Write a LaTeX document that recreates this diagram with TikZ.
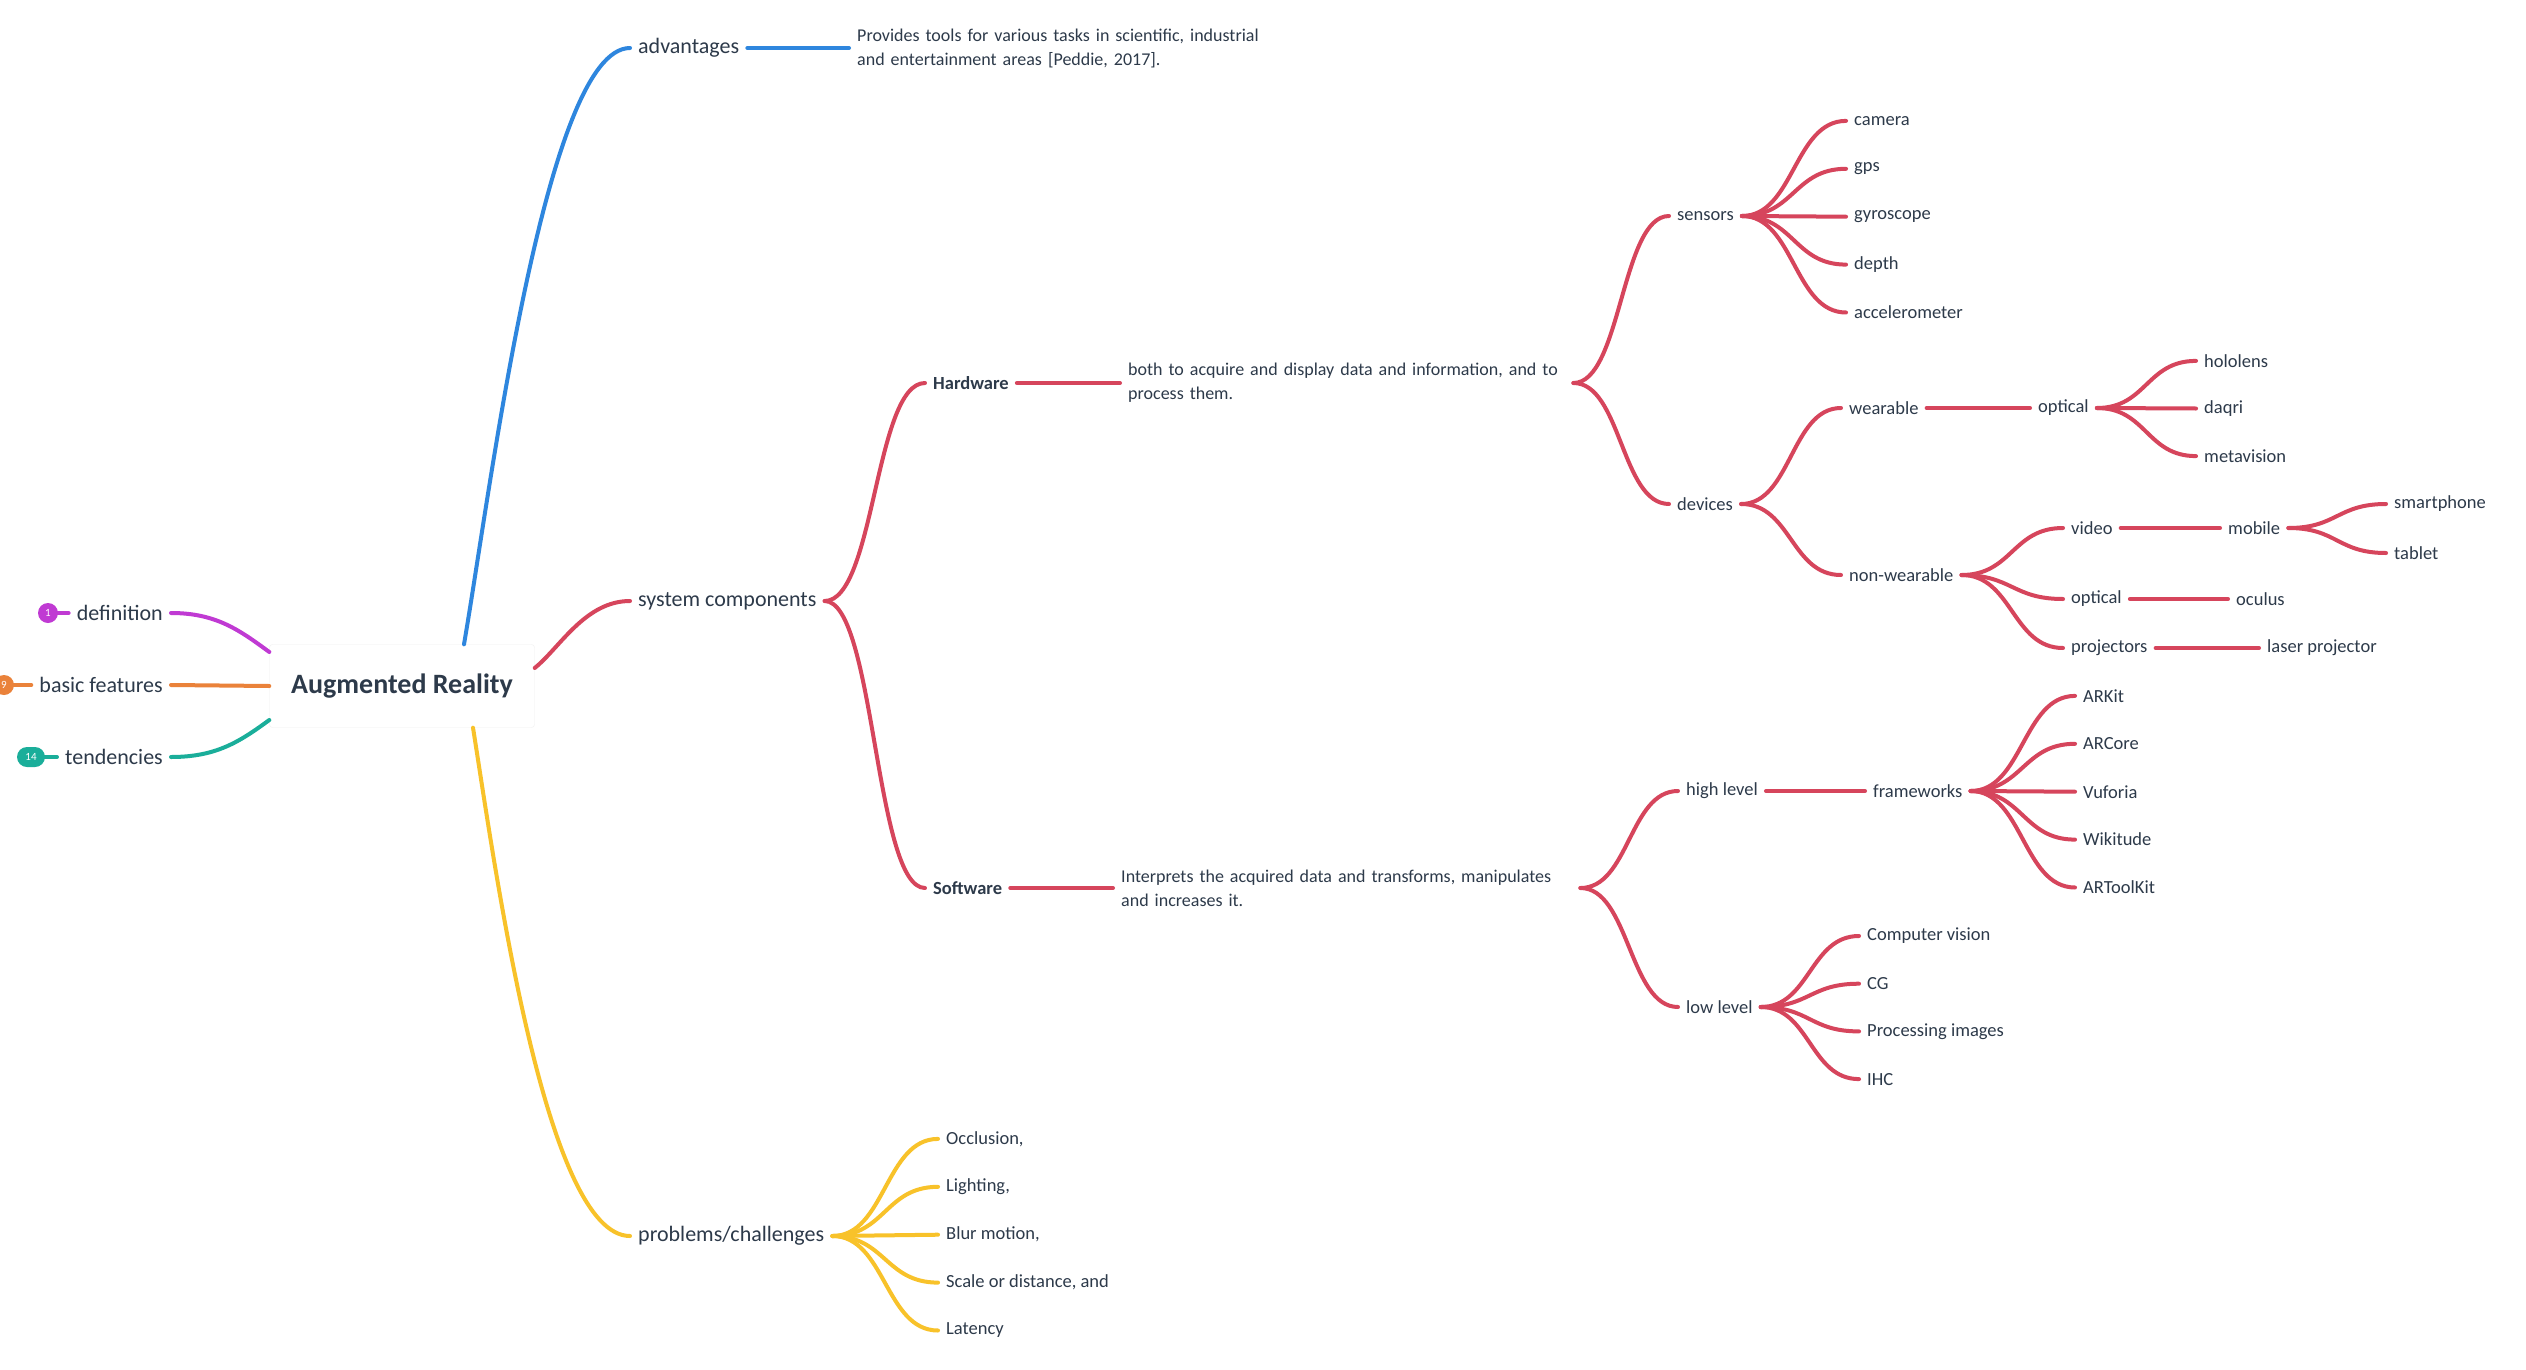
\documentclass[tikz,border=0pt]{standalone}
\usepackage{fontspec}
\setmainfont{Carlito}
\usetikzlibrary{calc}
\definecolor{ink}{RGB}{45,58,74}
\definecolor{arblue}{RGB}{46,134,222}
\definecolor{arred}{RGB}{214,69,92}
\definecolor{aryellow}{RGB}{248,194,42}
\definecolor{arpurple}{RGB}{192,58,211}
\definecolor{arorange}{RGB}{234,130,58}
\definecolor{arteal}{RGB}{26,174,154}
\tikzset{
  fan/.style={to path={.. controls ($(\tikztostart)!0.5!(\tikztostart -| \tikztotarget)$) and ($(\tikztotarget)!0.5!(\tikztotarget -| \tikztostart)$) .. (\tikztotarget)}},
  topic/.style={text=ink,inner xsep=8pt,inner ysep=2pt,font=\fontsize{22}{26}\selectfont},
  leaf/.style={text=ink,inner xsep=8pt,inner ysep=2pt,anchor=west,font=\fontsize{18.5}{24}\selectfont},
  bleaf/.style={leaf,font=\bfseries\fontsize{18.5}{24}\selectfont},
  note/.style={leaf,align=left,text width=#1,font=\fontsize{18}{24}\selectfont},
  link/.style={line width=4pt,line cap=round},
  badge/.style={fill=#1,text=white,inner sep=0pt,minimum height=20pt,font=\fontsize{11}{11}\selectfont},
}
\begin{document}
\begin{tikzpicture}[x=1pt,y=-1pt]
\path[use as bounding box,fill=white] (0,0) rectangle (2526,1370);
\node[fill=white,draw=black!6,rounded corners=3pt,minimum width=265pt,minimum height=83pt,text=ink,font=\bfseries\fontsize{28}{32}\selectfont] (ar) at (402,686) {Augmented Reality};
% left side
\node[topic,anchor=east] (def) at (171,613) {definition};
\node[topic,anchor=east] (bas) at (171,685) {basic features};
\node[topic,anchor=east] (ten) at (171,757) {tendencies};
\draw[link,arpurple] (48,613) coordinate (c1) -- (def.west);
\draw[link,arorange] (4,685) coordinate (c9) -- (bas.west);
\draw[link,arteal] (31,757) coordinate (c14) -- (ten.west);
\node[badge=arpurple,circle,minimum size=20pt] (n1) at (c1) {1};
\node[badge=arorange,circle,minimum size=20pt] (n9) at (c9) {9};
\node[badge=arteal,rounded corners=10pt,minimum width=28pt] (n14) at (c14) {14};
\draw[link,arpurple] (def.east) .. controls +(45,0) and +(-30,-22) .. ([yshift=34pt]ar.west);
\draw[link,arorange] (bas.east) -- (ar.west);
\draw[link,arteal] (ten.east) .. controls +(45,0) and +(-30,22) .. ([yshift=-34pt]ar.west);
% main topics
\node[topic,anchor=west] (adv) at (630,48) {advantages};
\node[topic,anchor=west] (sys) at (630,601) {system components};
\node[topic,anchor=west] (prob) at (630,1236) {problems/challenges};
\draw[link,arblue] ([xshift=62pt]ar.north) .. controls +(26,-150) and +(-85,0) .. (adv.west);
\draw[link,arred] ([yshift=18pt]ar.east) .. controls +(25,-20) and +(-45,0) .. (sys.west);
\draw[link,aryellow] ([xshift=71pt]ar.south) .. controls +(22,138) and +(-85,0) .. (prob.west);
\node[note=420pt] (advn) at (849,48) {Provides tools for various tasks in scientific, industrial\\and entertainment areas [Peddie, 2017].};
\draw[link,arblue] (adv.east) -- (advn.west);
% hardware
\node[bleaf] (hw) at (925,383) {Hardware};
\node[note=437pt] (hwn) at (1120,383) {both to acquire and display data and information, and to\\process them.};
\node[bleaf] (sw) at (925,888) {Software};
\node[note=451pt] (swn) at (1113,888) {Interprets the acquired data and transforms, manipulates\\and increases it.};
\foreach \n in {hw,sw} \draw[link,arred] (sys.east) to[fan] (\n.west);
\draw[link,arred] (hw.east) -- (hwn.west);
\draw[link,arred] (sw.east) -- (swn.west);
\node[leaf] (sens) at (1669,216) {sensors};
\node[leaf] (dev) at (1669,504) {devices};
\foreach \n in {sens,dev} \draw[link,arred] (hwn.east) to[fan] (\n.west);
\foreach \t [count=\i] in {camera,gps,gyroscope,depth,accelerometer} {
	\node[leaf] (sens\i) at (1846,{73+47.9*\i}) {\t};
	\draw[link,arred] (sens.east) to[fan] (sens\i.west);
}
\node[leaf] (wear) at (1841,408) {wearable};
\node[leaf] (nwear) at (1841,575) {non-wearable};
\foreach \n in {wear,nwear} \draw[link,arred] (dev.east) to[fan] (\n.west);
\node[leaf] (wopt) at (2030,408) {optical};
\draw[link,arred] (wear.east) -- (wopt.west);
\foreach \t [count=\i] in {hololens,daqri,metavision} {
	\node[leaf] (wopt\i) at (2196,{313.3+47.6*\i}) {\t};
	\draw[link,arred] (wopt.east) to[fan] (wopt\i.west);
}
\node[leaf] (video) at (2063,528) {video};
\node[leaf] (nopt) at (2063,599) {optical};
\node[leaf] (proj) at (2063,648) {projectors};
\foreach \n in {video,nopt,proj} \draw[link,arred] (nwear.east) to[fan] (\n.west);
\node[leaf] (mob) at (2220,528) {mobile};
\node[leaf] (smart) at (2386,504) {smartphone};
\node[leaf] (tab) at (2386,553) {tablet};
\node[leaf] (ocul) at (2228,599) {oculus};
\node[leaf] (laser) at (2259,648) {laser projector};
\draw[link,arred] (video.east) -- (mob.west);
\foreach \n in {smart,tab} \draw[link,arred] (mob.east) to[fan] (\n.west);
\draw[link,arred] (nopt.east) -- (ocul.west);
\draw[link,arred] (proj.east) -- (laser.west);
% software
\node[leaf] (high) at (1678,791) {high level};
\node[leaf] (low) at (1678,1007) {low level};
\foreach \n in {high,low} \draw[link,arred] (swn.east) to[fan] (\n.west);
\node[leaf] (fw) at (1865,791) {frameworks};
\draw[link,arred] (high.east) -- (fw.west);
\foreach \t [count=\i] in {ARKit,ARCore,Vuforia,Wikitude,ARToolKit} {
	\node[leaf] (fw\i) at (2075,{648+47.9*\i}) {\t};
	\draw[link,arred] (fw.east) to[fan] (fw\i.west);
}
\foreach \t [count=\i] in {Computer vision,CG,Processing images,IHC} {
	\node[leaf] (low\i) at (1859,{888.3+47.7*\i}) {\t};
	\draw[link,arred] (low.east) to[fan] (low\i.west);
}
% problems
\foreach \t [count=\i] in {{Occlusion,},{Lighting,},{Blur motion,},{Scale or distance, and},Latency} {
	\node[leaf] (prob\i) at (938,{1091+47.9*\i}) {\t};
	\draw[link,aryellow] (prob.east) to[fan] (prob\i.west);
}
\end{tikzpicture}
\end{document}
